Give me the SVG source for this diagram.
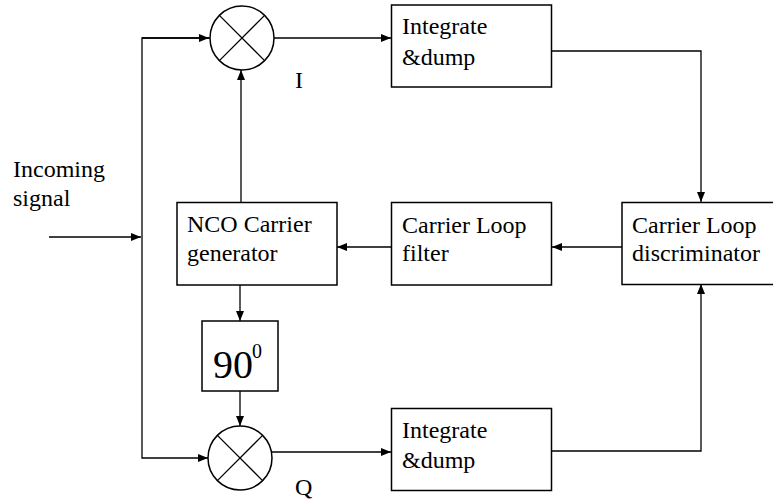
<svg xmlns="http://www.w3.org/2000/svg" width="773" height="504" viewBox="0 0 773 504">
<style>
.box{fill:#fff;stroke:#000;stroke-width:1.5}
.ln{fill:none;stroke:#000;stroke-width:1.3}
.t{font-family:"Liberation Serif","Times New Roman",serif;font-size:24px;fill:#000}
</style>
<defs>
<marker id="ah" viewBox="0 0 10 8" refX="10" refY="4" markerWidth="10" markerHeight="8" markerUnits="userSpaceOnUse" orient="auto">
<path d="M0,0 L10,4 L0,8 z" fill="#000"/>
</marker>
</defs>
<rect width="773" height="504" fill="#fff"/>
<g id="connectors">
<path class="ln" d="M49,237 L141,237" marker-end="url(#ah)"/>
<path class="ln" d="M210,38 L142,38 L142,458 L208,458" marker-end="url(#ah)"/>
<path class="ln" d="M142,38 L209,38" marker-end="url(#ah)"/>
<path class="ln" d="M274,38 L391,38" marker-end="url(#ah)"/>
<path class="ln" d="M241,202 L241,70" marker-end="url(#ah)"/>
<path class="ln" d="M552,51 L701,51 L701,202" marker-end="url(#ah)"/>
<path class="ln" d="M622,247 L552,247" marker-end="url(#ah)"/>
<path class="ln" d="M392,247 L337,247" marker-end="url(#ah)"/>
<path class="ln" d="M240,285 L240,321" marker-end="url(#ah)"/>
<path class="ln" d="M240,391 L240,426" marker-end="url(#ah)"/>
<path class="ln" d="M272,452 L391,452" marker-end="url(#ah)"/>
<path class="ln" d="M552,451 L701,451 L701,284" marker-end="url(#ah)"/>
</g>
<g id="mixer-i">
<circle class="box" cx="242" cy="38" r="32"/>
<path class="ln" d="M219.4,15.4 L264.6,60.6 M264.6,15.4 L219.4,60.6"/>
</g>
<text class="t" x="295" y="88">I</text>
<g id="mixer-q">
<circle class="box" cx="240" cy="458" r="32"/>
<path class="ln" d="M217.4,435.4 L262.6,480.6 M262.6,435.4 L217.4,480.6"/>
</g>
<text class="t" x="295" y="495">Q</text>
<g id="integrate-i">
<rect class="box" x="391.5" y="5" width="160" height="82"/>
<text class="t" x="402" y="34">Integrate</text>
<text class="t" x="402" y="65">&amp;dump</text>
</g>
<g id="integrate-q">
<rect class="box" x="391.5" y="408.5" width="160" height="82"/>
<text class="t" x="402" y="438">Integrate</text>
<text class="t" x="402" y="468">&amp;dump</text>
</g>
<g id="nco">
<rect class="box" x="177" y="202.5" width="160" height="82.5"/>
<text class="t" x="187" y="232">NCO Carrier</text>
<text class="t" x="187" y="261">generator</text>
</g>
<g id="loop-filter">
<rect class="box" x="391.5" y="202.5" width="160" height="82.5"/>
<text class="t" x="402" y="233">Carrier Loop</text>
<text class="t" x="402" y="261">filter</text>
</g>
<g id="discriminator">
<rect class="box" x="622" y="202.5" width="160" height="82"/>
<text class="t" x="632" y="233">Carrier Loop</text>
<text class="t" x="632" y="261">discriminator</text>
</g>
<g id="phase-shift">
<rect class="box" x="202" y="321" width="76" height="70"/>
<text class="t" x="213" y="378" style="font-size:40px">90</text>
<text class="t" x="252" y="358" style="font-size:20px">0</text>
</g>
<g id="incoming">
<text class="t" x="13" y="177">Incoming</text>
<text class="t" x="13" y="206">signal</text>
</g>
</svg>
